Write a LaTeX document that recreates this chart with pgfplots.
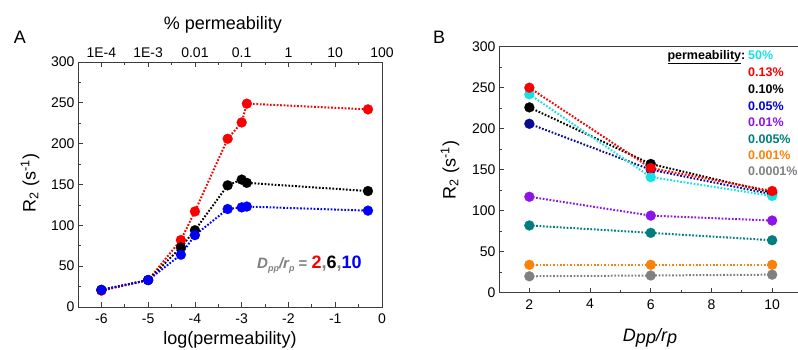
\documentclass[border=0pt]{standalone}
\usepackage{pgfplots}
\pgfplotsset{compat=1.18}
\usepackage{fontspec}
\setmainfont{Liberation Sans}
\definecolor{cCyan}{RGB}{20,225,230}
\definecolor{cRed}{RGB}{250,0,0}
\definecolor{cBlue}{RGB}{0,0,250}
\definecolor{cNavy}{RGB}{10,10,150}
\definecolor{cPurple}{RGB}{140,20,230}
\definecolor{cTeal}{RGB}{0,125,125}
\definecolor{cOrange}{RGB}{250,130,10}
\definecolor{cGray}{RGB}{128,128,128}
\definecolor{cAxis}{RGB}{60,60,60}

\pgfplotstableread{
x      r2   r6   r10
-6     20   21   21
-5     33   33   33
-4.3   82   73   64
-4     117  94   88
-3.3   206  149  120
-3     226  156  122
-2.89  249  152  123
-0.3   242  142  118
}\tabA

\pgfplotstableread{
D   p50  p013 p010 p005 p001 p0005 p0001 p00001
2   242  250  226  206  117  82    34    20
6   141  152  157  150  94   73    34    21
10  118  124  122  120  88   64    34    22
}\tabB

\pgfplotsset{
  common/.style={
    scale only axis,
    tick align=inside,
    axis line style={line width=0.9pt, cAxis},
    major tick length=5pt, minor tick length=3pt,
    every tick/.style={line width=0.8pt, cAxis},
    ticklabel style={font=\fontsize{14}{14}\selectfont},
    /pgf/number format/assume math mode=true,
    clip=false,
  },
  ser/.style={color=#1, dash pattern=on 1.7pt off 1.7pt, line width=2pt,
    mark=*, mark size=5pt, mark options={solid, fill=#1, draw=#1, line width=0.2pt}},
}

\begin{document}
\begin{tikzpicture}[x=1pt,y=1pt]
% ---------- Panel A ----------
\begin{axis}[common, at={(78pt,42pt)}, anchor=south west,
  width=304pt, height=245pt,
  xmin=-6.5, xmax=0, ymin=0, ymax=300,
  xtick={-6,-5,-4,-3,-2,-1,0}, minor x tick num=1,
  ytick={0,50,100,150,200,250,300}, minor y tick num=1,
  xtick pos=lower, ytick pos=left,
  xticklabel style={yshift=-3pt},
]
\addplot[ser=cRed] table[x=x,y=r2] {\tabA};
\addplot[ser=black] table[x=x,y=r6] {\tabA};
\addplot[ser=cBlue] table[x=x,y=r10] {\tabA};
\end{axis}
\begin{axis}[common, at={(78pt,42pt)}, anchor=south west,
  width=304pt, height=245pt,
  xmin=-6.5, xmax=0, ymin=0, ymax=300,
  axis x line*=top, axis y line=none,
  xtick={-6,-5,-4,-3,-2,-1,0}, minor x tick num=1,
  xticklabels={1E-4,1E-3,0.01,0.1,1,10,100},
  xticklabel style={yshift=1pt},
]
\end{axis}
% ---------- Panel B ----------
\begin{axis}[common, at={(499pt,56.3pt)}, anchor=south west,
  width=303.5pt, height=246pt,
  xmin=1, xmax=11, ymin=0, ymax=300,
  xtick={2,4,6,8,10}, minor x tick num=1,
  ytick={0,50,100,150,200,250,300}, minor y tick num=1,
  xtick pos=lower, ytick pos=left,
  xticklabel style={yshift=-3pt},
]
\addplot[ser=cGray]   table[x=D,y=p00001] {\tabB};
\addplot[ser=cOrange] table[x=D,y=p0001] {\tabB};
\addplot[ser=cTeal]   table[x=D,y=p0005] {\tabB};
\addplot[ser=cPurple] table[x=D,y=p001] {\tabB};
\addplot[ser=cNavy]   table[x=D,y=p005] {\tabB};
\addplot[ser=black]   table[x=D,y=p010] {\tabB};
\addplot[ser=cCyan]   table[x=D,y=p50] {\tabB};
\addplot[ser=cRed]    table[x=D,y=p013] {\tabB};
\end{axis}

% ---------- Labels ----------
\node[font=\fontsize{18}{18}\selectfont] at (20,312) {A};
\node[font=\fontsize{18}{18}\selectfont] at (439,312) {B};
\node[font=\fontsize{18}{18}\selectfont, anchor=base] at (223,319.5) {\% permeability};
\node[font=\fontsize{18}{18}\selectfont, anchor=base] at (230,4.5) {log(permeability)};
\node[font=\fontsize{18}{18}\selectfont, rotate=90] at (30,166) {R\textsubscript{2} (s\textsuperscript{-1})};
\node[font=\fontsize{18}{18}\selectfont, rotate=90] at (450,179) {R\textsubscript{2} (s\textsuperscript{-1})};
\node[font=\fontsize{18}{18}\selectfont\itshape, anchor=base] at (650,8) {D\raisebox{-2.5pt}{pp}/r\raisebox{-2.5pt}{p}};

% annotation panel A
\node[anchor=base west, inner sep=0pt] at (257,81) {\color{cGray}\fontsize{15}{15}\selectfont\bfseries\itshape D\raisebox{-3pt}{\fontsize{9}{9}\selectfont pp}/r\raisebox{-3pt}{\fontsize{9}{9}\selectfont p}\upshape\ = \fontsize{18}{18}\selectfont\color{cRed}2\color{cGray},\color{black}6\color{cGray},\color{cBlue}10};

% legend panel B
\begin{scope}[every node/.style={font=\fontsize{12.5}{12.5}\selectfont\bfseries, inner sep=0pt}]
\node[anchor=base east] at (745.5,289.5) {\underline{permeability}:};
\node[anchor=base west, text=cCyan]   at (748,289.5) {50\%};
\node[anchor=base west, text=cRed]    at (748,272.5) {0.13\%};
\node[anchor=base west, text=black]   at (748,255.5) {0.10\%};
\node[anchor=base west, text=cBlue!85!black]   at (748,239) {0.05\%};
\node[anchor=base west, text=cPurple] at (748,222.5) {0.01\%};
\node[anchor=base west, text=cTeal]   at (748,206) {0.005\%};
\node[anchor=base west, text=cOrange] at (748,190) {0.001\%};
\node[anchor=base west, text=cGray]   at (748,173.5) {0.0001\%};
\end{scope}

\pgfresetboundingbox
\path[use as bounding box] (0,0) rectangle (798,349);
\end{tikzpicture}
\end{document}
